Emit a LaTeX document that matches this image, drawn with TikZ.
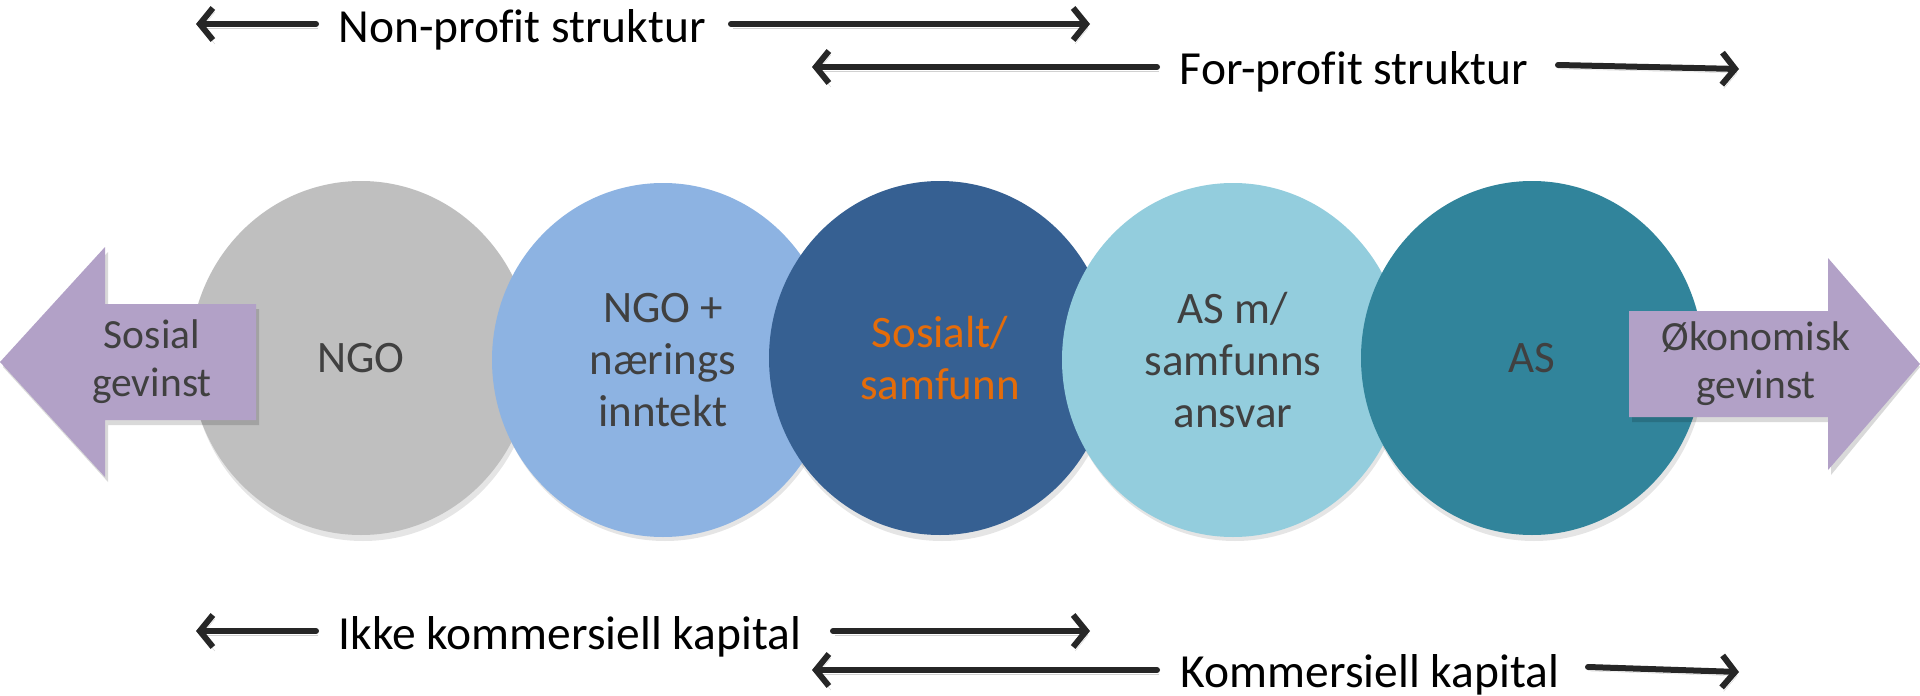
\documentclass[tikz,border=0pt]{standalone}
\usepackage{fontspec}
\setmainfont{Carlito}[Ligatures=NoCommon]
\usetikzlibrary{arrows.meta,shapes.geometric}
\definecolor{cgray}{HTML}{BFBFBF}
\definecolor{clblue}{HTML}{8DB3E2}
\definecolor{cdblue}{HTML}{366092}
\definecolor{ccyan}{HTML}{93CDDD}
\definecolor{cteal}{HTML}{31849B}
\definecolor{cpurple}{HTML}{B2A1C7}
\definecolor{ctext}{HTML}{404040}
\definecolor{corange}{HTML}{E46C0A}
\definecolor{carrow}{HTML}{262626}
\begin{document}
\begin{tikzpicture}[x=1pt,y=-1pt,
  lbl/.style={font=\fontsize{47.5}{56}\selectfont, text=black, inner xsep=0pt, inner ysep=0pt},
  arr/.style={line width=6pt, draw=carrow, line cap=round,
    -{Straight Barb[length=13pt,width=32pt,line width=6pt]},
    preaction={draw=black, opacity=0.18, transform canvas={shift={(2pt,-4pt)}}}},
  circ/.style={ellipse, minimum width=342pt, minimum height=354pt, inner sep=0pt,
    font=\fontsize{45}{52}\selectfont, text=ctext, align=center},
  side/.style={font=\fontsize{41.5}{48}\selectfont, text=ctext, align=center, inner sep=0pt},
  shad/.style={fill=black, opacity=0.10}
]
\useasboundingbox[fill=white] (0,0) rectangle (1920,696);

% top rows
\node[lbl] (np) at (522,30) {Non-profit struktur};
\coordinate (npL) at (196,24); \coordinate (npLa) at (316,24);
\coordinate (npRa) at (731,24); \coordinate (npR) at (1090,24);
\draw[arr] (npLa) -- (npL);
\draw[arr] (npRa) -- (npR);

\node[lbl] (fp) at (1354,72) {For-profit struktur};
\coordinate (fpL) at (812,67); \coordinate (fpLa) at (1157,67);
\coordinate (fpRa) at (1558,65); \coordinate (fpR) at (1739,69);
\draw[arr] (fpLa) -- (fpL);
\draw[arr] (fpRa) -- (fpR);

% shadows of circles
\foreach \cx in {361,663,940,1233,1532}
  \fill[shad] (\cx+2,364) ellipse [x radius=171, y radius=177];

% circles
\node[circ, fill=cgray] (c1) at (361,358) {NGO};
\node[circ, fill=clblue] (c2) at (663,360) {NGO +\\nærings\\inntekt};
\node[circ, fill=cdblue, text=corange] (c3) at (940,358) {Sosialt/\\samfunn};
\node[circ, fill=ccyan] (c4) at (1233,360) {AS m/\\samfunns\\ansvar};
\node[circ, fill=cteal] (c5) at (1532,358) {AS};

% side arrows
\fill[black, opacity=0.15] (3,367) -- (108,252) -- (108,309) -- (259,309) -- (259,425) -- (108,425) -- (108,482) -- cycle;
\fill[cpurple] (0,362) -- (105,247) -- (105,304) -- (256,304) -- (256,420) -- (105,420) -- (105,477) -- cycle;
\node[side] (sg) at (152,362) {Sosial\\gevinst};

\fill[black, opacity=0.15] (1632,316) -- (1831,316) -- (1831,263) -- (1920,367) -- (1831,475) -- (1831,422) -- (1632,422) -- cycle;
\fill[cpurple] (1629,311) -- (1828,311) -- (1828,258) -- (1920,364) -- (1828,470) -- (1828,417) -- (1629,417) -- cycle;
\node[side] (og) at (1756,364) {Økonomisk\\gevinst};

% bottom rows
\node[lbl] (ik) at (570,637) {Ikke kommersiell kapital};
\coordinate (ikL) at (196,631); \coordinate (ikLa) at (316,631);
\coordinate (ikRa) at (833,631); \coordinate (ikR) at (1090,631);
\draw[arr] (ikLa) -- (ikL);
\draw[arr] (ikRa) -- (ikR);

\node[lbl] (kk) at (1370,675) {Kommersiell kapital};
\coordinate (kkL) at (812,670); \coordinate (kkLa) at (1157,670);
\coordinate (kkRa) at (1588,667); \coordinate (kkR) at (1739,672);
\draw[arr] (kkLa) -- (kkL);
\draw[arr] (kkRa) -- (kkR);
\end{tikzpicture}
\end{document}
